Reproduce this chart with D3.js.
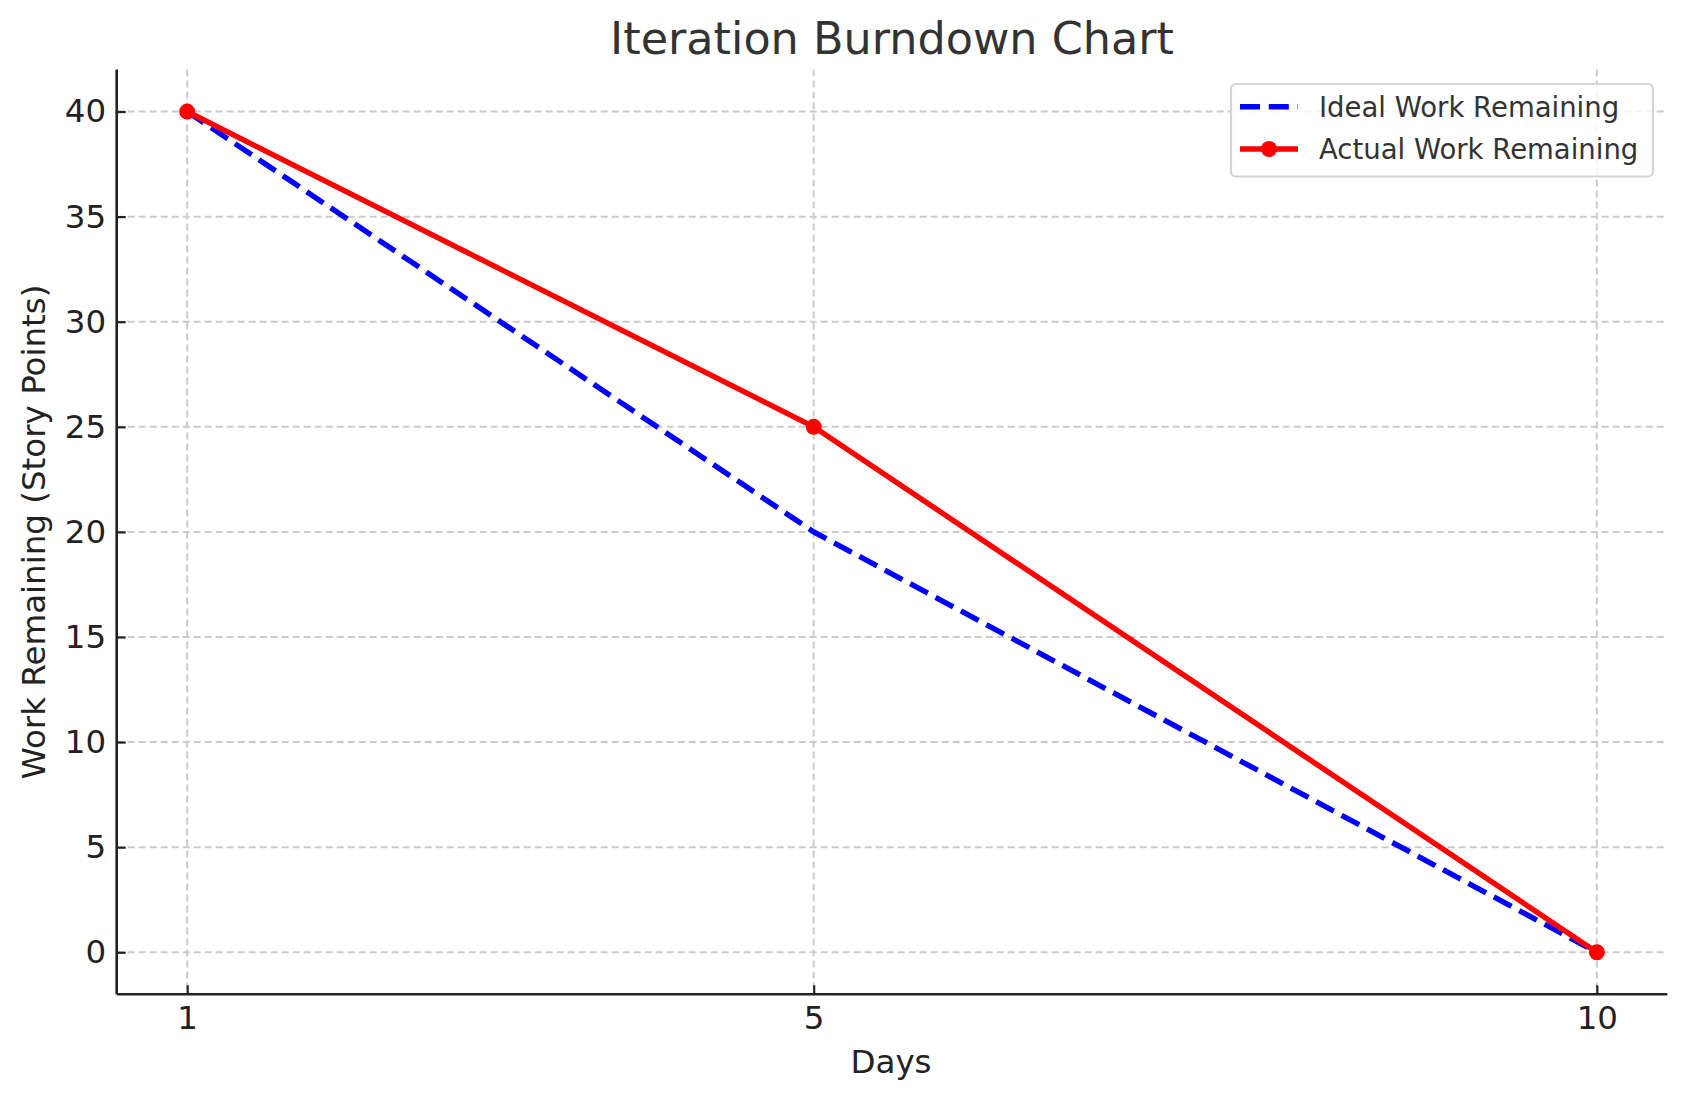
<!DOCTYPE html>
<html>
<head>
<meta charset="utf-8">
<script src="https://cdn.jsdelivr.net/npm/d3@7"></script>
<style>
  body { margin: 0; background: #fff; }
  svg text { font-family: "DejaVu Sans", sans-serif; }
</style>
</head>
<body>
<svg id="chart" width="1686" height="1101"></svg>
<script>
// data
var days = [1, 5, 10];
var idealWork = [40, 20, 0];
var actualWork = [40, 25, 0];
var xTicks = [1, 5, 10];
var yTicks = [0, 5, 10, 15, 20, 25, 30, 35, 40];
var seriesNames = ["Ideal Work Remaining", "Actual Work Remaining"];

var svg = d3.select("#chart");
var plot = {left: 116.7, right: 1667.3, top: 69.5, bottom: 994.3};

var x = d3.scaleLinear().domain([0.55, 10.45]).range([plot.left, plot.right]);
var y = d3.scaleLinear().domain([-2, 42]).range([plot.bottom, plot.top]);

// grid
var grid = svg.append("g");
grid.selectAll("line.gx").data(xTicks).enter().append("line")
  .attr("x1", d => x(d)).attr("x2", d => x(d))
  .attr("y1", plot.top).attr("y2", plot.bottom)
  .attr("stroke", "#cbcbcb").attr("stroke-width", 2).attr("stroke-dasharray", "7,4");
grid.selectAll("line.gy").data(yTicks).enter().append("line")
  .attr("x1", plot.left).attr("x2", plot.right)
  .attr("y1", d => y(d)).attr("y2", d => y(d))
  .attr("stroke", "#cbcbcb").attr("stroke-width", 2).attr("stroke-dasharray", "7,4");

// axes (ticks point inward)
var xAxis = d3.axisBottom(x).tickValues(xTicks).tickSizeInner(-9).tickSizeOuter(0).tickPadding(11.5);
var yAxis = d3.axisLeft(y).tickValues(yTicks).tickSizeInner(-9).tickSizeOuter(0).tickPadding(10.5);

var gx = svg.append("g").attr("transform", "translate(0," + plot.bottom + ")").call(xAxis);
var gy = svg.append("g").attr("transform", "translate(" + plot.left + ",0)").call(yAxis);

[gx, gy].forEach(function(g) {
  g.select(".domain").attr("stroke", "#222").attr("stroke-width", 2.6);
  g.selectAll(".tick line").attr("stroke", "#222").attr("stroke-width", 2.2);
  g.selectAll(".tick text").attr("fill", "#222").style("font-size", "32.5px")
    .style("font-family", "DejaVu Sans");
});
gx.select(".domain").attr("d", "M" + plot.left + ",0H" + plot.right);
gy.select(".domain").attr("d", "M0," + plot.top + "V" + plot.bottom);

// lines
var line = d3.line().x((d, i) => x(days[i])).y(d => y(d));

svg.append("path").datum(idealWork)
  .attr("d", line).attr("fill", "none")
  .attr("stroke", "#0000ff").attr("stroke-width", 5.4)
  .attr("stroke-dasharray", "20,8.8");

svg.append("path").datum(actualWork)
  .attr("d", line).attr("fill", "none")
  .attr("stroke", "#ff0000").attr("stroke-width", 5.4);

svg.selectAll("circle.pt").data(actualWork).enter().append("circle")
  .attr("cx", (d, i) => x(days[i])).attr("cy", d => y(d))
  .attr("r", 8).attr("fill", "#ff0000");

// labels
svg.append("text").attr("x", 892).attr("y", 54).attr("text-anchor", "middle")
  .attr("fill", "#333").style("font-size", "44.5px").text("Iteration Burndown Chart");
svg.append("text").attr("x", 891).attr("y", 1073).attr("text-anchor", "middle")
  .attr("fill", "#222").style("font-size", "32.5px").text("Days");
svg.append("text").attr("transform", "translate(45," + ((plot.top + plot.bottom) / 2) + ") rotate(-90)")
  .attr("text-anchor", "middle").attr("fill", "#222").style("font-size", "32.5px")
  .text("Work Remaining (Story Points)");

// legend
var legend = svg.append("g");
legend.append("rect").attr("x", 1231).attr("y", 84).attr("width", 422).attr("height", 92.5)
  .attr("rx", 5).attr("fill", "#fff").attr("fill-opacity", 0.8)
  .attr("stroke", "#d4d4d4").attr("stroke-width", 2.2);

var rows = legend.selectAll("g.row").data(seriesNames).enter().append("g")
  .attr("transform", (d, i) => "translate(0," + (106.7 + i * 42.3) + ")");
rows.append("line").attr("x1", 1240).attr("x2", 1298).attr("y1", 0).attr("y2", 0)
  .attr("stroke", (d, i) => i === 0 ? "#0000ff" : "#ff0000").attr("stroke-width", 5.4)
  .attr("stroke-dasharray", (d, i) => i === 0 ? "20,8.8" : null);
rows.filter((d, i) => i === 1).append("circle").attr("cx", 1269).attr("cy", 0).attr("r", 8).attr("fill", "#ff0000");
rows.append("text").attr("x", 1319).attr("y", 10).attr("fill", "#333")
  .style("font-size", "27.5px").text(d => d);
</script>
</body>
</html>
